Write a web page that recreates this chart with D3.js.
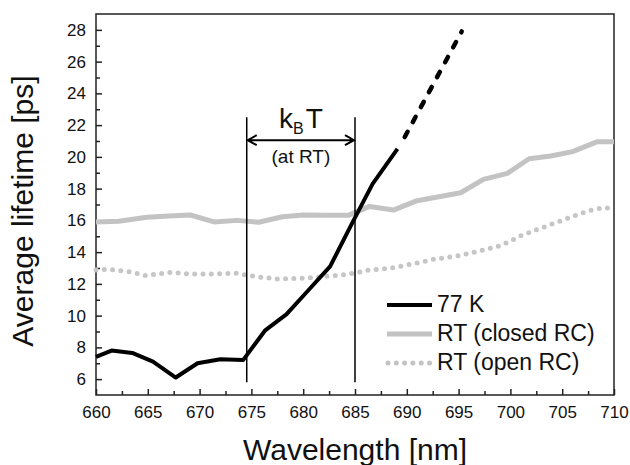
<!DOCTYPE html>
<html>
<head>
<meta charset="utf-8">
<script src="https://cdn.jsdelivr.net/npm/d3@7/dist/d3.min.js"></script>
<style>
body{margin:0;background:#fff;}
text{font-family:"Liberation Sans",Arial,sans-serif;}
</style>
</head>
<body>
<script>
// 77 K, solid part
var wl77   = [660.0, 661.5, 663.5, 665.5, 667.7, 669.8, 672.0, 674.2, 676.3, 678.4, 680.5, 682.6, 684.7, 686.7, 689.1];
var life77 = [7.40, 7.80, 7.65, 7.10, 6.10, 7.00, 7.25, 7.20, 9.05, 10.10, 11.60, 13.10, 15.80, 18.30, 20.50];
// 77 K, dashed extrapolation
var wl77ext   = [689.8, 695.3];
var life77ext = [21.25, 27.90];
// RT closed RC
var wlClosed   = [660.0, 662.2, 664.9, 667.0, 669.1, 671.4, 673.6, 675.7, 678.0, 680.0, 682.1, 684.4, 686.4, 688.7, 691.0, 693.1, 695.2, 697.4, 699.7, 701.8, 703.9, 706.0, 708.4, 710.0];
var lifeClosed = [15.90, 15.95, 16.20, 16.28, 16.34, 15.90, 16.00, 15.88, 16.23, 16.34, 16.33, 16.33, 16.88, 16.65, 17.24, 17.49, 17.74, 18.58, 18.96, 19.88, 20.06, 20.33, 20.96, 20.96];
// RT open RC
var wlOpen   = [660.0, 661.2, 663.2, 664.8, 667.0, 669.2, 671.3, 673.4, 675.5, 677.6, 679.8, 681.9, 684.1, 686.2, 688.4, 690.5, 692.6, 694.8, 696.9, 699.0, 701.1, 703.3, 705.4, 707.5, 709.0, 710.0];
var lifeOpen = [12.88, 12.92, 12.77, 12.52, 12.72, 12.62, 12.62, 12.68, 12.45, 12.30, 12.35, 12.45, 12.58, 12.85, 12.98, 13.25, 13.55, 13.75, 14.05, 14.40, 15.05, 15.60, 16.10, 16.60, 16.80, 16.75];

var xTicks = [660, 665, 670, 675, 680, 685, 690, 695, 700, 705, 710];
var xMinor = [662.5, 667.5, 672.5, 677.5, 682.5, 687.5, 692.5, 697.5, 702.5, 707.5];
var yTicks = [6, 8, 10, 12, 14, 16, 18, 20, 22, 24, 26, 28];
var yMinor = [7, 9, 11, 13, 15, 17, 19, 21, 23, 25, 27];
var legendLabels = ['77 K', 'RT (closed RC)', 'RT (open RC)'];
// kBT band (wavelengths) and the lifetime levels of its marks
var kbtBand = [674.55, 685.0];
var kbtLines = [5.8, 22.5];
var kbtArrow = 21.05;

var screen={width:630,height:465};
var margin={top:14,right:16,bottom:70,left:96};
var w=screen.width-margin.left-margin.right;
var h=screen.height-margin.top-margin.bottom;

var svg=d3.select('body').append('svg')
    .attr('width',screen.width)
    .attr('height',screen.height)
    .style('display','block')

var xScale=d3.scaleLinear()
    .domain([660,710])
    .range([margin.left,margin.left+w])

var yScale=d3.scaleLinear()
    .domain([5,29])
    .range([margin.top+h,margin.top])

var line=d3.line()
    .x(function(d){return xScale(d[0])})
    .y(function(d){return yScale(d[1])})

function pairs(xs,ys){
  return xs.map(function(x,i){return [x,ys[i]]})
}

// axes
var xAxis=d3.axisBottom(xScale).tickValues(xTicks).tickSize(-6).tickPadding(11).tickFormat(d3.format('d'))
svg.append('g')
    .attr('transform','translate(0,'+(margin.top+h)+')')
    .call(xAxis)
svg.append('g')
    .attr('transform','translate(0,'+(margin.top+h)+')')
    .call(d3.axisBottom(xScale).tickValues(xMinor).tickSize(-4).tickFormat(''))

var yAxis=d3.axisLeft(yScale).tickValues(yTicks).tickSize(-6).tickPadding(10)
svg.append('g')
    .attr('transform','translate('+margin.left+',0)')
    .call(yAxis)
svg.append('g')
    .attr('transform','translate('+margin.left+',0)')
    .call(d3.axisLeft(yScale).tickValues(yMinor).tickSize(-4).tickFormat(''))

svg.selectAll('.domain').remove()
svg.selectAll('.tick line').attr('stroke','#222').attr('stroke-width',1.5)
svg.selectAll('.tick text')
    .attr('font-size',17)
    .attr('font-family','"Liberation Sans",Arial,sans-serif')
    .attr('fill','#111')

// frame
svg.append('rect')
    .attr('x',margin.left)
    .attr('y',margin.top)
    .attr('width',w)
    .attr('height',h)
    .attr('fill','none')
    .attr('stroke','#222')
    .attr('stroke-width',1.5)

// axis titles
svg.append('text')
    .attr('transform','translate(33,211) rotate(-90)')
    .attr('text-anchor','middle')
    .attr('font-size',30)
    .attr('fill','#111')
    .text('Average lifetime [ps]')

svg.append('text')
    .attr('x',margin.left+w/2)
    .attr('y',460)
    .attr('text-anchor','middle')
    .attr('font-size',30)
    .attr('fill','#111')
    .text('Wavelength [nm]')

// curves
svg.append('path')
    .attr('d',line(pairs(wlOpen,lifeOpen)))
    .attr('fill','none')
    .attr('stroke','#c6c6c6')
    .attr('stroke-width',5)
    .attr('stroke-linecap','round')
    .attr('stroke-dasharray','0,8.3')

svg.append('path')
    .attr('d',line(pairs(wlClosed,lifeClosed)))
    .attr('fill','none')
    .attr('stroke','#c3c3c3')
    .attr('stroke-width',5)
    .attr('stroke-linejoin','round')

svg.append('path')
    .attr('d',line(pairs(wl77,life77)))
    .attr('fill','none')
    .attr('stroke','#000')
    .attr('stroke-width',4)
    .attr('stroke-linejoin','round')

svg.append('path')
    .attr('d',line(pairs(wl77ext,life77ext)))
    .attr('fill','none')
    .attr('stroke','#000')
    .attr('stroke-width',4.5)
    .attr('stroke-linecap','round')
    .attr('stroke-dasharray','6,11')

// kBT annotation
svg.selectAll('.kbtline')
    .data(kbtBand)
    .enter()
    .append('line')
    .attr('class','kbtline')
    .attr('x1',function(d){return xScale(d)})
    .attr('x2',function(d){return xScale(d)})
    .attr('y1',yScale(kbtLines[0]))
    .attr('y2',yScale(kbtLines[1]))
    .attr('stroke','#000')
    .attr('stroke-width',1.5)

var ax0=xScale(kbtBand[0])+1, ax1=xScale(kbtBand[1])-1, ay=yScale(kbtArrow)
svg.append('path')
    .attr('d','M'+ax0+','+ay+'H'+ax1
      +'M'+(ax0+9)+','+(ay-5)+'L'+ax0+','+ay+'L'+(ax0+9)+','+(ay+5)
      +'M'+(ax1-9)+','+(ay-5)+'L'+ax1+','+ay+'L'+(ax1-9)+','+(ay+5))
    .attr('fill','none')
    .attr('stroke','#000')
    .attr('stroke-width',2)

var cx=(xScale(kbtBand[0])+xScale(kbtBand[1]))/2
var kbt=svg.append('text')
    .attr('x',cx)
    .attr('y',128)
    .attr('text-anchor','middle')
    .attr('font-size',28)
    .attr('fill','#111')
kbt.append('tspan').text('k')
kbt.append('tspan').attr('font-size',16).attr('dy',6).text('B')
kbt.append('tspan').attr('dy',-6).attr('dx',2).text('T')

svg.append('text')
    .attr('x',cx)
    .attr('y',163)
    .attr('text-anchor','middle')
    .attr('font-size',19)
    .attr('fill','#111')
    .text('(at RT)')

// legend
var legend=svg.append('g').attr('class','legend')
var rows=legend.selectAll('g')
    .data(legendLabels)
    .enter()
    .append('g')
    .attr('transform',function(d,i){return 'translate(387,'+(305+i*29)+')'})

rows.append('line')
    .attr('x1',function(d,i){return i==2?1:0})
    .attr('x2',45)
    .attr('y1',0)
    .attr('y2',0)
    .attr('stroke',function(d,i){return i==0?'#000':'#c3c3c3'})
    .attr('stroke-width',function(d,i){return i==0?4:5})
    .attr('stroke-linecap',function(d,i){return i==2?'round':'butt'})
    .attr('stroke-dasharray',function(d,i){return i==2?'0,8.3':null})

rows.append('text')
    .attr('x',50)
    .attr('y',7)
    .attr('font-size',23)
    .attr('fill','#111')
    .text(function(d){return d})
</script>
</body>
</html>
